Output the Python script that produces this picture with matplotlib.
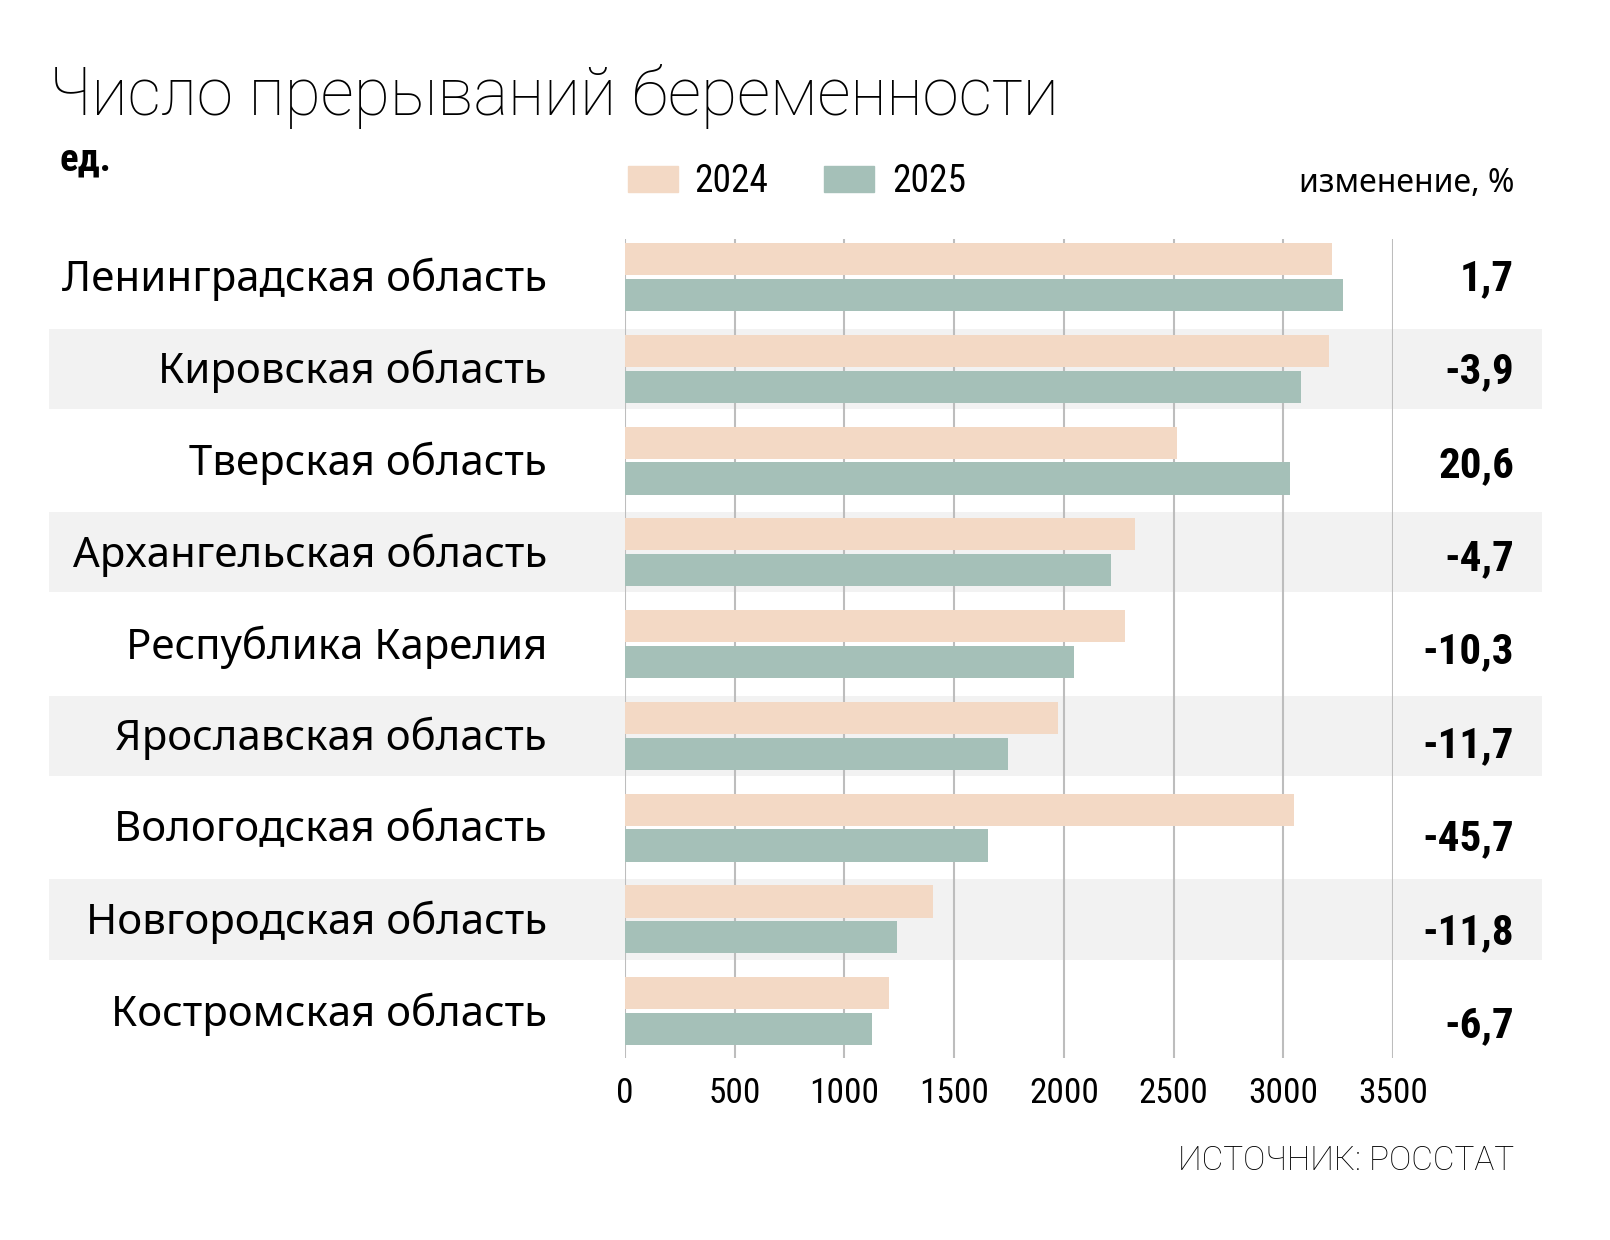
import matplotlib
matplotlib.use('Agg')
import matplotlib.pyplot as plt
from matplotlib import font_manager
from matplotlib.transforms import blended_transform_factory
from matplotlib.patches import Rectangle
import numpy as np

# данные
regions = ['Ленинградская область', 'Кировская область', 'Тверская область',
           'Архангельская область', 'Республика Карелия', 'Ярославская область',
           'Вологодская область', 'Новгородская область', 'Костромская область']
v2024 = [3223, 3207, 2514, 2326, 2279, 1974, 3047, 1405, 1205]
v2025 = [3274, 3081, 3030, 2216, 2044, 1744, 1656, 1240, 1126]
changes = ['1,7', '-3,9', '20,6', '-4,7', '-10,3', '-11,7', '-45,7', '-11,8', '-6,7']
xticks = [0, 500, 1000, 1500, 2000, 2500, 3000, 3500]

c2024 = '#F3D9C5'
c2025 = '#A5C0B8'
band = '#F2F2F2'

# шрифты: ищем узкий, если есть
fl = font_manager.fontManager.ttflist
names = {f.name for f in fl}
narrow = dict(family='Roboto' if 'Roboto' in names else 'DejaVu Sans')
for nm in ['Roboto Condensed', 'Liberation Sans Narrow', 'Open Sans Condensed']:
    if nm in names:
        narrow = dict(family=nm)
        break
else:
    if any(f.name == 'DejaVu Sans' and f.stretch == 'condensed' for f in fl):
        narrow = dict(family='DejaVu Sans', fontstretch='condensed')
main = 'Noto Sans' if 'Noto Sans' in names else 'DejaVu Sans'
light = 'Roboto' if 'Roboto' in names else 'DejaVu Sans'

W, H = 1610, 1240
fig = plt.figure(figsize=(W / 100, H / 100), dpi=100)

def fx(px):
    return px / W

def fy(py):
    return 1 - py / H

ax = fig.add_axes([fx(625), fy(1058), fx(1393) - fx(625), (1058 - 239) / H])
ax.set_facecolor('none')

y = np.arange(len(regions))
h = 0.35
ax.barh(y - 0.195, v2024, height=h, color=c2024, zorder=3)
ax.barh(y + 0.195, v2025, height=h, color=c2025, zorder=3)

ax.set_xlim(0, 3500)
ax.set_ylim(8.51, -0.414)
ax.set_xticks(xticks)
ax.set_xticklabels([str(t) for t in xticks], fontsize=25.5, **narrow)
ax.set_yticks([])
ax.tick_params(axis='x', length=0, pad=14)
for s in ax.spines.values():
    s.set_visible(False)
for t in xticks:
    ax.axvline(t, color='#BDBDBD', lw=1.5, zorder=1)

tr = blended_transform_factory(fig.transFigure, ax.transData)
for i in range(len(regions)):
    if i % 2 == 1:
        ax.add_patch(Rectangle((fx(49), i - 0.4375), fx(1542) - fx(49), 0.875,
                               transform=tr, color=band, zorder=0, clip_on=False, lw=0))
    ax.text(fx(547), i + 0.03, regions[i], transform=tr, ha='right', va='center',
            fontsize=30.2, family=main)
    ax.text(fx(1514), i * 1.017 + 0.02, changes[i], transform=tr, ha='right', va='center',
            fontsize=31, fontweight='bold', **narrow)

# заголовок и подписи
fig.text(fx(49), fy(115), 'Число прерываний беременности', fontsize=47.3,
         family=light, fontweight='light', ha='left', va='baseline')
fig.text(fx(59), fy(160), 'ед.', fontsize=28, fontweight='bold',
         ha='left', va='center', **narrow)

# легенда
fig.patches.append(Rectangle((fx(628), fy(192)), fx(678) - fx(628), (192 - 166) / H,
                             transform=fig.transFigure, color=c2024))
fig.text(fx(694), fy(182), '2024', fontsize=27, ha='left', va='center', **narrow)
fig.patches.append(Rectangle((fx(824), fy(192)), fx(874) - fx(824), (192 - 166) / H,
                             transform=fig.transFigure, color=c2025))
fig.text(fx(892), fy(182), '2025', fontsize=27, ha='left', va='center', **narrow)

fig.text(fx(1514), fy(183), 'изменение, %', fontsize=23, family=main,
         ha='right', va='center')
fig.text(fx(1514), fy(1170), 'ИСТОЧНИК: РОССТАТ', fontsize=24, family=light,
         fontweight='light', color='black', ha='right', va='baseline')

plt.savefig('out.png', dpi=100)
